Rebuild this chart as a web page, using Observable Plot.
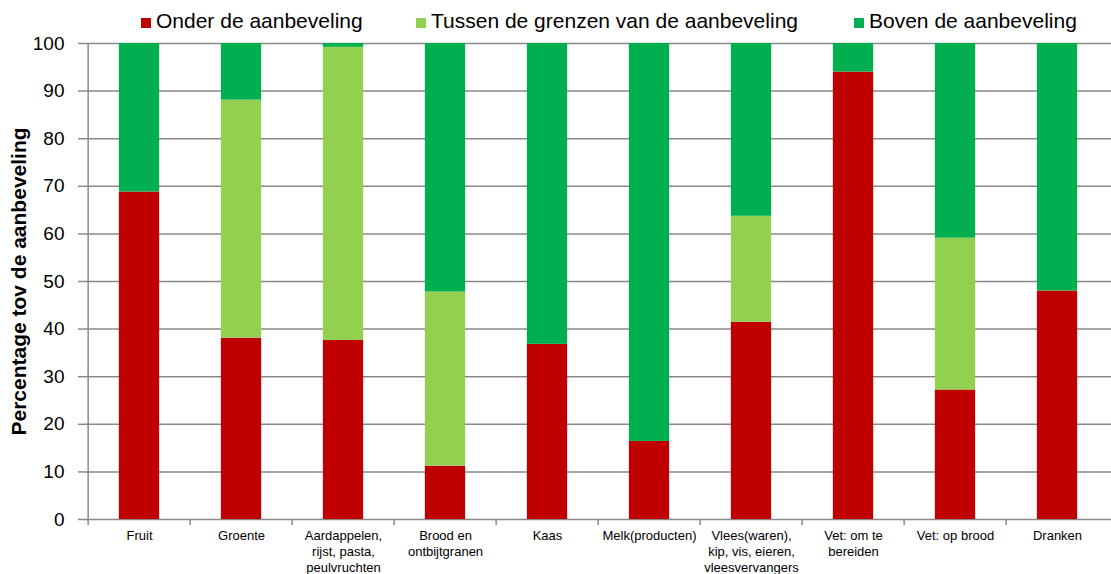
<!DOCTYPE html>
<html>
<head>
<meta charset="utf-8">
<script src="https://cdn.jsdelivr.net/npm/d3@7"></script>
<script src="https://cdn.jsdelivr.net/npm/@observablehq/plot@0.6"></script>
<style>
  body { margin: 0; background: #fff; font-family: "Liberation Sans", Arial, sans-serif; }
  #wrap { position: relative; width: 1111px; height: 574px; overflow: hidden; }
  #chart { position: absolute; left: 0; top: 0; }
  .leg { position: absolute; top: 9px; display: flex; align-items: baseline; font-size: 21px; line-height: 24px; color: #000; white-space: nowrap; }
  .sw { display: inline-block; width: 10px; height: 10px; margin-right: 5px; }
</style>
</head>
<body>
<div id="wrap">
  <div id="chart"></div>
  <div id="legend"></div>
</div>
<script>
// ---- data ----
const categories = [
  "Fruit",
  "Groente",
  "Aardappelen,\nrijst, pasta,\npeulvruchten",
  "Brood en\nontbijtgranen",
  "Kaas",
  "Melk(producten)",
  "Vlees(waren),\nkip, vis, eieren,\nvleesvervangers",
  "Vet: om te\nbereiden",
  "Vet: op brood",
  "Dranken"
];
const seriesNames = ["Onder de aanbeveling", "Tussen de grenzen van de aanbeveling", "Boven de aanbeveling"];
const seriesColors = ["#C00000", "#92D050", "#00B050"];
const onder  = [68.8, 38.1, 37.6, 11.2, 36.8, 16.4, 41.4, 94.0, 27.2, 48.0];
const tussen = [0,    50.0, 61.6, 36.6, 0,    0,    22.3, 0,    31.9, 0   ];
const boven  = [31.2, 11.9, 0.8,  52.2, 63.2, 83.6, 36.3, 6.0,  40.9, 52.0];
const yTicks = [0, 10, 20, 30, 40, 50, 60, 70, 80, 90, 100];
const yTitle = "Percentage tov de aanbeveling";

// ---- long table for the library ----
const seriesValues = [onder, tussen, boven];
const data = [];
seriesNames.forEach((s, si) => {
  categories.forEach((c, ci) => data.push({cat: c, series: s, value: seriesValues[si][ci]}));
});

// ---- layout ----
const W = 1111, H = 574;
const mL = 84, mR = 0, mT = 43, mB = 55;
const step = (W - mL - mR) / categories.length;
const barW = 41;
const inset = (step - barW) / 2;
const gray = "#898989";
const font = "'Liberation Sans', Arial, sans-serif";

const chart = Plot.plot({
  width: W,
  height: H,
  marginLeft: mL,
  marginRight: mR,
  marginTop: mT,
  marginBottom: mB,
  style: {fontFamily: font, background: "transparent", color: "#000"},
  x: {domain: categories, padding: 0},
  y: {domain: [0, 100]},
  color: {domain: seriesNames, range: seriesColors},
  marks: [
    Plot.ruleY(yTicks, {stroke: gray, strokeWidth: 1.5}),
    Plot.barY(data, {x: "cat", y: "value", fill: "series", order: seriesNames, insetLeft: inset, insetRight: inset}),
    Plot.ruleX([categories[0]], {x: d => d, y1: 0, y2: 100, dx: -step / 2, stroke: gray, strokeWidth: 1.5}),
    Plot.ruleX(categories, {x: d => d, y1: 0, y2: 0, insetBottom: -6, dx: -step / 2, stroke: gray, strokeWidth: 1.5}),
    Plot.axisY({ticks: yTicks, tickSize: 6, tickPadding: 14, fontSize: 19, stroke: gray, strokeWidth: 1.5, fill: "#000", label: null}),
    Plot.axisX({tickSize: 0, tickPadding: 9, fontSize: 13, lineHeight: 1.23, fill: "#000", label: null}),
    Plot.text([yTitle], {text: d => d, frameAnchor: "left", textAnchor: "middle", rotate: -90, dx: -65, fontSize: 21, fontWeight: "bold", fill: "#000"})
  ]
});
document.getElementById("chart").appendChild(chart);

// ---- legend ----
const legendLeft = [141, 416, 854];
const legend = document.getElementById("legend");
seriesNames.forEach((s, i) => {
  const item = document.createElement("div");
  item.className = "leg";
  item.style.left = legendLeft[i] + "px";
  const sw = document.createElement("span");
  sw.className = "sw";
  sw.style.background = seriesColors[i];
  const t = document.createElement("span");
  t.textContent = s;
  item.appendChild(sw);
  item.appendChild(t);
  legend.appendChild(item);
});
</script>
</body>
</html>
